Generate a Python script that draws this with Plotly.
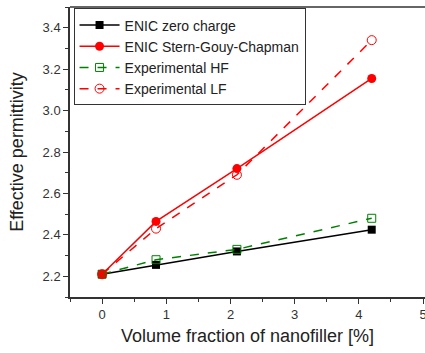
import plotly.graph_objects as go

x_vals = [0, 0.84, 2.1, 4.2]
enic_zero = [2.21, 2.255, 2.32, 2.425]
enic_sgc = [2.21, 2.465, 2.72, 3.155]
exp_hf = [2.21, 2.28, 2.33, 2.48]
exp_lf = [2.21, 2.43, 2.69, 3.34]

fig = go.Figure()
fig.add_trace(go.Scatter(x=x_vals, y=enic_zero, mode="lines+markers", name="ENIC zero charge",
                         line=dict(color="black", width=1.5), marker=dict(symbol="square", size=8, color="black")))
fig.add_trace(go.Scatter(x=x_vals, y=enic_sgc, mode="lines+markers", name="ENIC Stern-Gouy-Chapman",
                         line=dict(color="red", width=1.5), marker=dict(symbol="circle", size=9, color="red")))
fig.add_trace(go.Scatter(x=x_vals, y=exp_hf, mode="lines+markers", name="Experimental HF",
                         line=dict(color="green", width=1.5, dash="dash"),
                         marker=dict(symbol="square-open", size=8, color="green")))
fig.add_trace(go.Scatter(x=x_vals, y=exp_lf, mode="lines+markers", name="Experimental LF",
                         line=dict(color="red", width=1.5, dash="dash"),
                         marker=dict(symbol="circle-open", size=9, color="red")))

axis_common = dict(showline=True, linecolor="#333", linewidth=1.5, ticks="outside", ticklen=5,
                   tickcolor="#333", showgrid=False, zeroline=False, automargin=False,
                   ticklabeloverflow="allow",
                   tickfont=dict(family="Liberation Sans, Arial", size=13, color="#333"))

fig.update_layout(
    width=425, height=353,
    margin=dict(l=70, r=0, t=7, b=56),
    plot_bgcolor="white", paper_bgcolor="white",
    font=dict(family="Liberation Sans, Arial", color="#222"),
    xaxis=dict(range=[-0.5, 5.03], dtick=1, tick0=0,
               title=dict(text="Volume fraction of nanofiller [%]", font=dict(size=18), standoff=8),
               minor=dict(ticks="outside", ticklen=3, tickcolor="#333", dtick=0.5),
               **axis_common),
    yaxis=dict(range=[2.1, 3.5], dtick=0.2, tick0=2.2, tickformat=".1f",
               title=dict(text="Effective permittivity", font=dict(size=18), standoff=14),
               minor=dict(ticks="outside", ticklen=3, tickcolor="#333", dtick=0.1),
               **axis_common),
    legend=dict(x=0.01, y=0.995, xanchor="left", yanchor="top", bgcolor="white",
                bordercolor="#333", borderwidth=1, font=dict(size=14, color="#222"),
                tracegroupgap=0, itemwidth=40),
    showlegend=True,
)
fig.add_shape(type="line", xref="paper", yref="paper", x0=0, x1=1, y0=1, y1=1,
              line=dict(color="#333", width=1.5))

fig.write_html("out.html")
